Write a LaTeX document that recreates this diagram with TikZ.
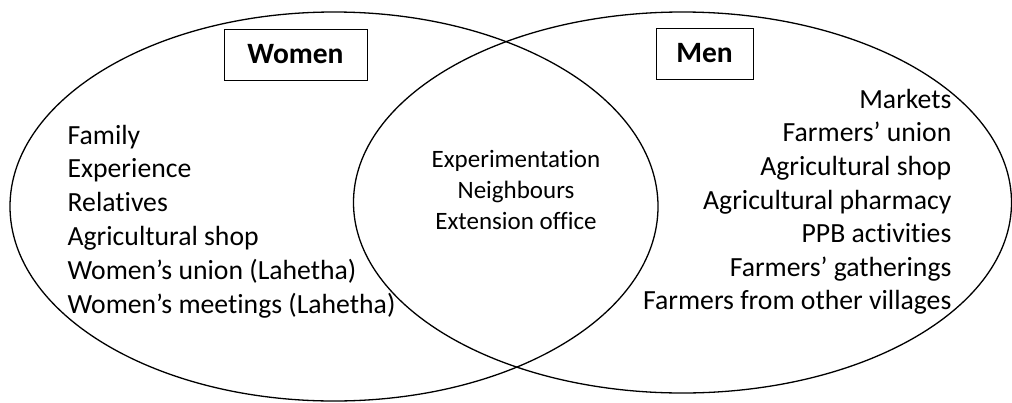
\documentclass[tikz,border=0pt]{standalone}
\usepackage{fontspec}
\setmainfont{Carlito}[Ligatures=NoCommon]
\usetikzlibrary{positioning}

\begin{document}
\begin{tikzpicture}[x=1pt,y=-1pt,line width=1.3pt,
	item/.style={inner sep=0pt,font=\fontsize{27.7}{32}\selectfont},
	mid/.style={inner sep=0pt,font=\fontsize{25}{29}\selectfont},
	title/.style={draw,line width=1pt,minimum height=51pt,inner sep=0pt,font=\fontsize{29.5}{33}\selectfont\bfseries}]
	\useasboundingbox (0,0) rectangle (1012,402);	%page size of the reference
	\def\dl{33.8}	%line spacing, women list
	\def\dr{33.6}	%line spacing, men list
	\def\dc{30.7}	%line spacing, shared list

	\draw (334,206.5) ellipse [x radius=324, y radius=194.5];	%women
	\draw (682.5,202.5) ellipse [x radius=329, y radius=190.5];	%men

	\node[title,minimum width=143pt] (women) at (295.5,54.5) {Women};
	\node[title,minimum width=97pt] (men) at (704.5,53.5) {Men};

	\foreach \t [count=\i] in {Family,Experience,Relatives,Agricultural shop,Women’s union (Lahetha),Women’s meetings (Lahetha)}{
		\node[item,anchor=base west] (w\i) at (67,{144+(\i-1)*\dl}) {\t};	%women only
	}
	\foreach \t [count=\i] in {Markets,Farmers’ union,Agricultural shop,Agricultural pharmacy,PPB activities,Farmers’ gatherings,Farmers from other villages}{
		\node[item,anchor=base east] (m\i) at (952,{108.3+(\i-1)*\dr}) {\t};	%men only
	}
	\foreach \t [count=\i] in {Experimentation,Neighbours,Extension office}{
		\node[mid,anchor=base] (b\i) at (516,{167.7+(\i-1)*\dc}) {\t};	%both
	}
\end{tikzpicture}
\end{document}
